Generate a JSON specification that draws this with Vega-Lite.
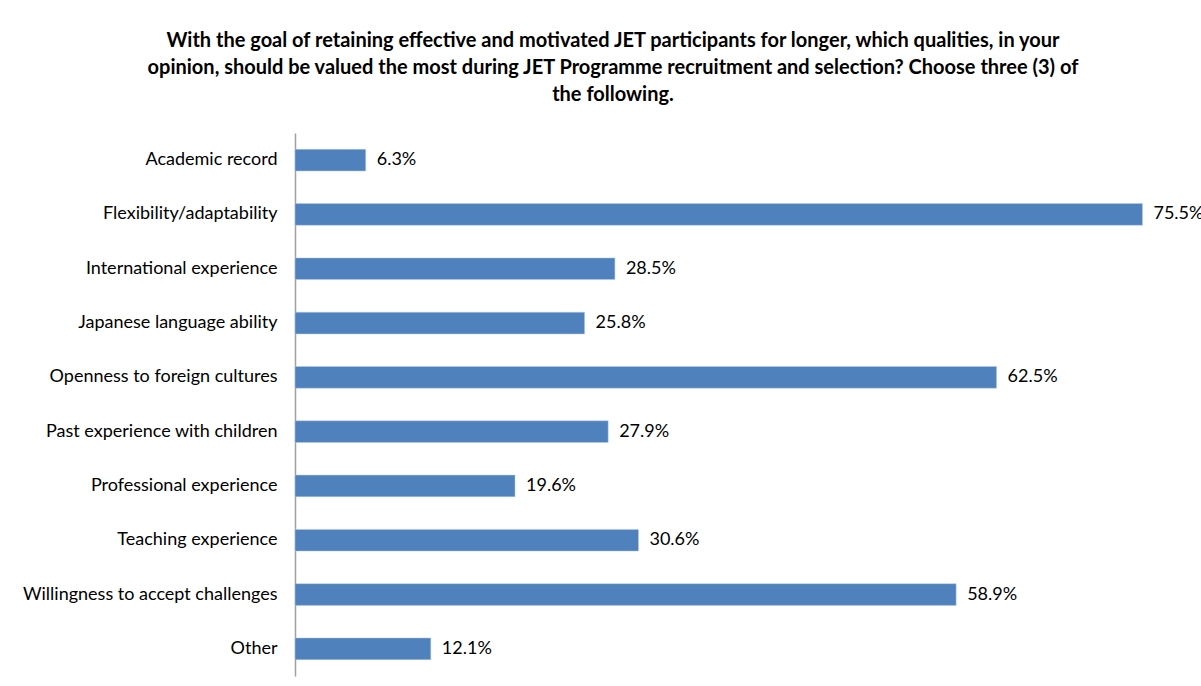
{
  "$schema": "https://vega.github.io/schema/vega-lite/v6.json",
  "autosize": {"type": "none"},
  "padding": {"left": 295, "top": 133, "right": 8, "bottom": 10},
  "width": 898,
  "height": 543,
  "background": "white",
  "title": {
    "text": ["With the goal of retaining effective and motivated JET participants for longer, which qualities, in your", "opinion, should be valued the most during JET Programme recruitment and selection? Choose three (3) of", "the following."],
    "font": "Lato",
    "fontSize": 20,
    "fontWeight": "bold",
    "color": "#000000",
    "lineHeight": 27,
    "anchor": "middle",
    "frame": "bounds",
    "offset": 28
  },
  "data": {
    "values": [
      {"quality": "Academic record", "share": 0.063},
      {"quality": "Flexibility/adaptability", "share": 0.755},
      {"quality": "International experience", "share": 0.285},
      {"quality": "Japanese language ability", "share": 0.258},
      {"quality": "Openness to foreign cultures", "share": 0.625},
      {"quality": "Past experience with children", "share": 0.279},
      {"quality": "Professional experience", "share": 0.196},
      {"quality": "Teaching experience", "share": 0.306},
      {"quality": "Willingness to accept challenges", "share": 0.589},
      {"quality": "Other", "share": 0.121}
    ]
  },
  "encoding": {
    "y": {
      "field": "quality",
      "type": "nominal",
      "sort": null,
      "scale": {"paddingInner": 0.6, "paddingOuter": 0.3},
      "axis": {
        "title": null,
        "ticks": false,
        "domainColor": "#A0A0A0",
        "domainWidth": 1.5,
        "labelFont": "Lato",
        "labelFontSize": 18,
        "labelColor": "#000000",
        "labelPadding": 18,
        "labelLimit": 400
      }
    },
    "x": {
      "field": "share",
      "type": "quantitative",
      "scale": {"domain": [0, 0.8], "nice": false},
      "axis": null
    }
  },
  "layer": [
    {
      "mark": {"type": "bar", "color": "#4F81BD", "stroke": "#B8CCE4", "strokeWidth": 0.5}
    },
    {
      "mark": {"type": "text", "align": "left", "baseline": "middle", "dx": 11, "font": "Lato", "fontSize": 18, "color": "#000000"},
      "encoding": {
        "text": {"field": "share", "type": "quantitative", "format": ".1%"}
      }
    }
  ],
  "config": {"view": {"stroke": null}}
}
